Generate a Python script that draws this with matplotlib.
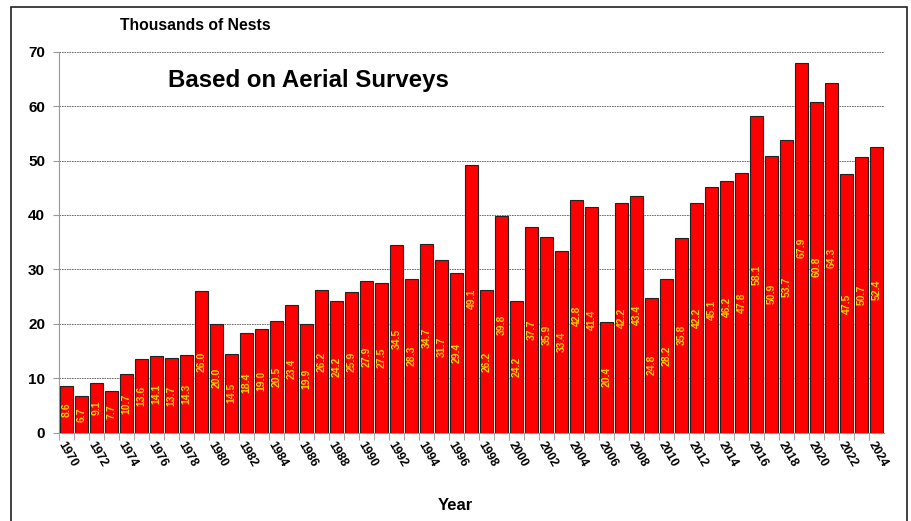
import numpy as np
import matplotlib.pyplot as plt
from matplotlib.patches import Rectangle

plt.rcParams['font.family'] = ['Liberation Sans', 'DejaVu Sans']

years = list(range(1970, 2025))
nests = [8.6, 6.7, 9.1, 7.7, 10.7, 13.6, 14.1, 13.7, 14.3, 26.0,
         20.0, 14.5, 18.4, 19.0, 20.5, 23.4, 19.9, 26.2, 24.2, 25.9,
         27.9, 27.5, 34.5, 28.3, 34.7, 31.7, 29.4, 49.1, 26.2, 39.8,
         24.2, 37.7, 35.9, 33.4, 42.8, 41.4, 20.4, 42.2, 43.4, 24.8,
         28.2, 35.8, 42.2, 45.1, 46.2, 47.8, 58.1, 50.9, 53.7, 67.9,
         60.8, 64.3, 47.5, 50.7, 52.4]
yticks = [0, 10, 20, 30, 40, 50, 60, 70]

fig = plt.figure(figsize=(9.12, 5.21), dpi=100)
ax = fig.add_axes([0.0647, 0.1695, 0.9046, 0.7313])

x = np.arange(len(years))
bars = ax.bar(x, nests, width=0.87, color='#ff0000', edgecolor='#222222',
              linewidth=0.8, zorder=3)

for xi, v in zip(x, nests):
    ax.text(xi, v / 2, f'{v:.1f}', rotation=90, ha='center', va='center',
            color='#ffcc00', fontsize=7.5, fontweight='bold', zorder=4)

ax.set_xlim(-0.5, len(years) - 0.5)
ax.set_ylim(0, 70)
ax.set_yticks(yticks)
ax.set_yticklabels([str(t) for t in yticks], fontsize=11, fontweight='bold')
ax.yaxis.grid(True, linestyle=(0, (2, 1)), linewidth=0.6, color='#555555', zorder=0)
ax.tick_params(axis='y', length=4, color='#999999', pad=6)

# year labels on even years, tick marks between bars
ax.set_xticks(x[::2])
ax.set_xticklabels([str(y) for y in years[::2]], rotation=-60, ha='left',
                   va='top', rotation_mode='anchor', fontsize=8.8, fontweight='bold')
ax.set_xticks(x - 0.5, minor=True)
ax.tick_params(axis='x', which='major', length=0, pad=5)
ax.tick_params(axis='x', which='minor', length=5, color='#999999')

for s in ['top', 'right']:
    ax.spines[s].set_visible(False)
ax.spines['left'].set_color('#999999')
ax.spines['bottom'].set_color('#999999')

fig.text(120 / 912, 1 - 26 / 521, 'Thousands of Nests', fontsize=11.3,
         fontweight='bold', va='center', ha='left')
fig.text(168 / 912, 1 - 80 / 521, 'Based on Aerial Surveys', fontsize=17.3,
         fontweight='bold', va='center', ha='left')
fig.text(455 / 912, 1 - 506 / 521, 'Year', fontsize=12, fontweight='bold',
         va='center', ha='center')

fig.patches.append(Rectangle((11 / 912, -0.05), (907 - 11) / 912, 1 - 7 / 521 + 0.05,
                             transform=fig.transFigure, fill=False,
                             edgecolor='#222222', linewidth=1.2))

fig.savefig('out.png', dpi=100)
